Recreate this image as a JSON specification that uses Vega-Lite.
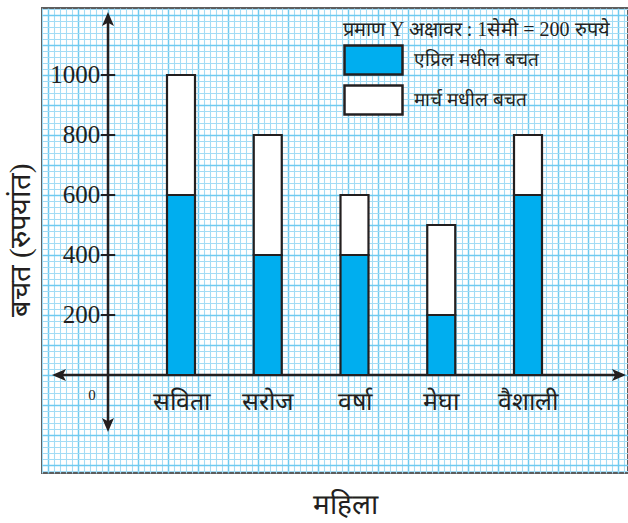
{
  "$schema": "https://vega.github.io/schema/vega-lite/v6.json",
  "width": 586,
  "height": 465,
  "autosize": {"type": "none"},
  "padding": {"left": 42, "top": 8, "right": 0, "bottom": 50},
  "background": "white",
  "config": {
    "view": {"stroke": "#5e5e5e", "strokeWidth": 2},
    "font": "Liberation Serif"
  },
  "datasets": {
    "savings": [
      {"name": "सविता", "type": "एप्रिल मधील बचत", "value": 600},
      {"name": "सविता", "type": "मार्च मधील बचत", "value": 400},
      {"name": "सरोज", "type": "एप्रिल मधील बचत", "value": 400},
      {"name": "सरोज", "type": "मार्च मधील बचत", "value": 400},
      {"name": "वर्षा", "type": "एप्रिल मधील बचत", "value": 400},
      {"name": "वर्षा", "type": "मार्च मधील बचत", "value": 200},
      {"name": "मेघा", "type": "एप्रिल मधील बचत", "value": 200},
      {"name": "मेघा", "type": "मार्च मधील बचत", "value": 300},
      {"name": "वैशाली", "type": "एप्रिल मधील बचत", "value": 600},
      {"name": "वैशाली", "type": "मार्च मधील बचत", "value": 200}
    ],
    "ticks": [{"v": 200}, {"v": 400}, {"v": 600}, {"v": 800}, {"v": 1000}]
  },
  "layer": [
    {
      "layer": [
        {
          "data": {"values": [{"gx": 0, "gy": 0}]},
          "mark": {"type": "point", "opacity": 0},
          "encoding": {
            "x": {
              "field": "gx", "type": "quantitative",
              "scale": {"domain": [-11, 86.6667], "nice": false, "zero": false},
              "axis": {
                "grid": true, "labels": false, "ticks": false, "domain": false, "tickCount": 98,
                "gridColor": {"condition": {"test": "datum.value % 5 === 0", "value": "#6fcaf0"}, "value": "#a3dcf5"},
                "gridWidth": {"condition": {"test": "datum.value % 5 === 0", "value": 1.5}, "value": 1.1},
                "gridOpacity": 1,
                "title": "महिला", "titleFontSize": 28, "titleFontWeight": "normal", "titleColor": "#231f20",
                "titleX": 303, "titleY": 40, "titleAlign": "center", "titleBaseline": "alphabetic", "titleAngle": 0
              }
            },
            "y": {
              "field": "gy", "type": "quantitative",
              "scale": {"domain": [-326.67, 1223.33], "nice": false, "zero": false},
              "axis": {
                "grid": true, "labels": false, "ticks": false, "domain": false, "tickCount": 78,
                "gridColor": {"condition": {"test": "datum.value % 100 === 0", "value": "#6fcaf0"}, "value": "#a3dcf5"},
                "gridWidth": {"condition": {"test": "datum.value % 100 === 0", "value": 1.5}, "value": 1.1},
                "gridOpacity": 1,
                "title": "बचत (रुपयांत)", "titleFontSize": 29, "titleFontWeight": "normal", "titleColor": "#231f20",
                "titleX": -22, "titleY": 232, "titleAlign": "center", "titleBaseline": "middle", "titleAngle": -90
              }
            }
          }
        },
        {
          "data": {"values": [{}]},
          "mark": {"type": "rule", "color": "#231f20", "strokeWidth": 2.5},
          "encoding": {
            "x": {"datum": -8, "type": "quantitative"},
            "x2": {"datum": 85},
            "y": {"datum": 0, "type": "quantitative"}
          }
        },
        {
          "data": {"values": [{}]},
          "mark": {"type": "rule", "color": "#231f20", "strokeWidth": 2.5},
          "encoding": {
            "x": {"datum": 0, "type": "quantitative"},
            "y": {"datum": -163, "type": "quantitative"},
            "y2": {"datum": 1183}
          }
        },
        {
          "data": {"values": [{}]},
          "mark": {"type": "point", "shape": "M0,-1L0.75,0.75L0,0.35L-0.75,0.75Z", "size": 256, "filled": true, "color": "#231f20", "opacity": 1},
          "encoding": {"x": {"datum": 0, "type": "quantitative"}, "y": {"datum": 1183.3, "type": "quantitative"}}
        },
        {
          "data": {"values": [{}]},
          "mark": {"type": "point", "shape": "M0,1L0.75,-0.75L0,-0.35L-0.75,-0.75Z", "size": 256, "filled": true, "color": "#231f20", "opacity": 1},
          "encoding": {"x": {"datum": 0, "type": "quantitative"}, "y": {"datum": -163.3, "type": "quantitative"}}
        },
        {
          "data": {"values": [{}]},
          "mark": {"type": "point", "shape": "M-1,0L0.75,-0.75L0.35,0L0.75,0.75Z", "size": 256, "filled": true, "color": "#231f20", "opacity": 1},
          "encoding": {"x": {"datum": -8, "type": "quantitative"}, "y": {"datum": 0, "type": "quantitative"}}
        },
        {
          "data": {"values": [{}]},
          "mark": {"type": "point", "shape": "M1,0L-0.75,-0.75L-0.35,0L-0.75,0.75Z", "size": 256, "filled": true, "color": "#231f20", "opacity": 1},
          "encoding": {"x": {"datum": 85, "type": "quantitative"}, "y": {"datum": 0, "type": "quantitative"}}
        },
        {
          "data": {"name": "ticks"},
          "mark": {"type": "rule", "color": "#231f20", "strokeWidth": 2},
          "encoding": {
            "x": {"datum": -1.2, "type": "quantitative"},
            "x2": {"datum": 1.2},
            "y": {"field": "v", "type": "quantitative"}
          }
        },
        {
          "data": {"name": "ticks"},
          "mark": {"type": "text", "align": "right", "baseline": "middle", "fontSize": 25, "color": "#231f20", "font": "Liberation Serif"},
          "encoding": {
            "x": {"datum": -1.3, "type": "quantitative"},
            "y": {"field": "v", "type": "quantitative"},
            "text": {"field": "v", "type": "quantitative"}
          }
        },
        {
          "data": {"values": [{"label": "0"}]},
          "mark": {"type": "text", "align": "center", "baseline": "middle", "fontSize": 15, "color": "#231f20", "font": "Liberation Serif"},
          "encoding": {
            "x": {"datum": -2.67, "type": "quantitative"},
            "y": {"datum": -66.7, "type": "quantitative"},
            "text": {"field": "label"}
          }
        }
      ]
    },
    {
      "data": {"name": "savings"},
      "layer": [
        {
          "mark": {"type": "bar", "width": 28, "stroke": "#231f20", "strokeWidth": 2.2, "opacity": 1},
          "encoding": {
            "x": {"field": "name", "type": "nominal", "sort": null, "scale": {"type": "point", "range": [139, 486], "padding": 0}, "axis": null},
            "y": {"field": "value", "type": "quantitative", "stack": "zero", "scale": {"domain": [-326.67, 1223.33], "nice": false, "zero": false}},
            "order": {"field": "type", "sort": "ascending"},
            "color": {
              "field": "type", "type": "nominal",
              "sort": ["एप्रिल मधील बचत", "मार्च मधील बचत"],
              "scale": {"domain": ["एप्रिल मधील बचत", "मार्च मधील बचत"], "range": ["#00aeef", "#ffffff"]},
              "legend": {
                "title": "प्रमाण Y अक्षावर : 1सेमी = 200 रुपये",
                "orient": "none", "legendX": 301, "legendY": 12,
                "symbolType": "M-1,-1H3V1H-1Z", "symbolSize": 841,
                "symbolStrokeColor": "#231f20", "symbolStrokeWidth": 2.5, "symbolOpacity": 1,
                "titleFontSize": 20, "titleFontWeight": "normal", "titleColor": "#231f20", "titleFont": "Liberation Serif",
                "titlePadding": 4, "titleLimit": 400,
                "labelFontSize": 19, "labelColor": "#231f20", "labelOffset": 39, "labelLimit": 300,
                "rowPadding": 0
              }
            }
          }
        },
        {
          "transform": [{"filter": "datum.type === 'एप्रिल मधील बचत'"}],
          "mark": {"type": "text", "align": "center", "baseline": "middle", "fontSize": 25, "color": "#231f20"},
          "encoding": {
            "x": {"field": "name", "type": "nominal", "sort": null, "scale": {"type": "point", "range": [139, 486], "padding": 0}, "axis": null},
            "y": {"datum": -90, "type": "quantitative"},
            "text": {"field": "name"}
          }
        }
      ]
    }
  ],
  "resolve": {"scale": {"x": "independent"}}
}
